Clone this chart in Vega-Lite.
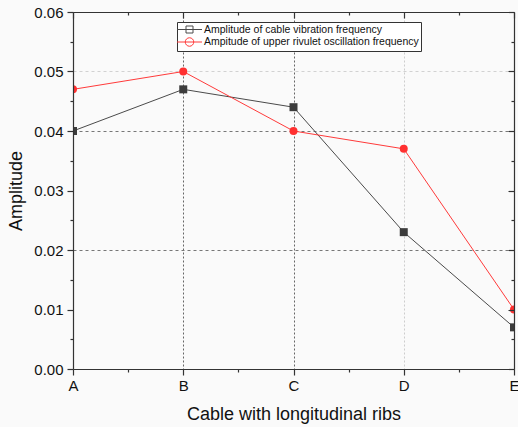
{
  "$schema": "https://vega.github.io/schema/vega-lite/v6.json",
  "width": 441,
  "height": 357,
  "autosize": {"type": "none"},
  "padding": {"left": 73, "top": 12, "right": 4, "bottom": 58},
  "background": "#fafafa",
  "config": {
    "view": {"stroke": null},
    "font": "Liberation Sans",
    "axis": {
      "domainColor": "#333333",
      "tickColor": "#333333",
      "labelColor": "#111111",
      "titleColor": "#111111",
      "labelFont": "Liberation Sans",
      "titleFont": "Liberation Sans",
      "titleFontWeight": "normal",
      "tickWidth": 1.2,
      "domainWidth": 1.2
    }
  },
  "data": {
    "values": [
      {"cable": "A", "series": "Amplitude of cable vibration frequency", "amplitude": 0.040},
      {"cable": "B", "series": "Amplitude of cable vibration frequency", "amplitude": 0.047},
      {"cable": "C", "series": "Amplitude of cable vibration frequency", "amplitude": 0.044},
      {"cable": "D", "series": "Amplitude of cable vibration frequency", "amplitude": 0.023},
      {"cable": "E", "series": "Amplitude of cable vibration frequency", "amplitude": 0.007},
      {"cable": "A", "series": "Ampitude of upper rivulet oscillation frequency", "amplitude": 0.047},
      {"cable": "B", "series": "Ampitude of upper rivulet oscillation frequency", "amplitude": 0.050},
      {"cable": "C", "series": "Ampitude of upper rivulet oscillation frequency", "amplitude": 0.040},
      {"cable": "D", "series": "Ampitude of upper rivulet oscillation frequency", "amplitude": 0.037},
      {"cable": "E", "series": "Ampitude of upper rivulet oscillation frequency", "amplitude": 0.010}
    ]
  },
  "layer": [
    {
      "mark": {"type": "point", "opacity": 0, "filled": true},
      "encoding": {
        "x": {"field": "cable", "type": "ordinal", "scale": {"type": "point", "padding": 0, "domain": ["A", "B", "C", "D", "E"]},
          "axis": {"orient": "bottom", "values": ["B", "C", "D"], "grid": true, "ticks": false, "labels": false, "domain": false, "title": null,
            "gridDash": [2, 2], "gridColor": "#666666",
            "gridOpacity": {"condition": {"test": "datum.value === 'D'", "value": 0.3}, "value": 1}}},
        "y": {"field": "amplitude", "type": "quantitative", "scale": {"domain": [0, 0.06], "nice": false, "zero": true},
          "axis": {"orient": "left", "values": [0.02, 0.04, 0.05], "grid": true, "ticks": false, "labels": false, "domain": false, "title": null,
            "gridDash": [3, 3], "gridColor": "#777777",
            "gridOpacity": {"condition": {"test": "datum.value === 0.05", "value": 0.3}, "value": 1}}},
        "fill": {"field": "series", "type": "nominal",
          "scale": {"domain": ["Amplitude of cable vibration frequency", "Ampitude of upper rivulet oscillation frequency"], "range": ["#3c3c3c", "#ff3030"]},
          "legend": {"orient": "none", "legendX": 104, "legendY": 10, "title": null, "strokeColor": "#333333", "fillColor": "#ffffff",
            "padding": 2, "labelFontSize": 10.5, "labelFont": "Liberation Sans", "labelColor": "#111111", "labelLimit": 0, "symbolSize": 100,
            "symbolOffset": 5, "labelOffset": 9, "rowPadding": 0.5, "symbolOpacity": 1, "symbolStrokeWidth": 1,
            "symbolFillColor": "#3c3c3c"}},
        "stroke": {"field": "series", "type": "nominal",
          "scale": {"domain": ["Amplitude of cable vibration frequency", "Ampitude of upper rivulet oscillation frequency"], "range": ["#4a4a4a", "#ff3a3a"]}},
        "shape": {"field": "series", "type": "nominal",
          "scale": {"domain": ["Amplitude of cable vibration frequency", "Ampitude of upper rivulet oscillation frequency"],
            "range": ["M-2.5,0H2.5M-0.7,-0.7H0.7V0.7H-0.7Z", "M-2.5,0H2.5M0.85,0A0.85,0.85,0,1,1,-0.85,0A0.85,0.85,0,1,1,0.85,0Z"]}}
      }
    },
    {
      "transform": [{"filter": "datum.series === 'Amplitude of cable vibration frequency'"}],
      "mark": {"type": "line", "strokeWidth": 1, "clip": true, "color": "#4a4a4a"},
      "encoding": {
        "x": {"field": "cable", "type": "ordinal", "scale": {"type": "point", "padding": 0, "domain": ["A", "B", "C", "D", "E"]},
          "axis": {"orient": "bottom", "title": "Cable with longitudinal ribs", "labelAngle": 0, "labelFontSize": 15, "titleFontSize": 18,
            "tickSize": 6, "labelPadding": 3, "titlePadding": 12, "labelFlush": false, "grid": false, "zindex": 1}},
        "y": {"field": "amplitude", "type": "quantitative", "scale": {"domain": [0, 0.06], "nice": false, "zero": true},
          "axis": {"orient": "left", "title": "Amplitude", "values": [0, 0.01, 0.02, 0.03, 0.04, 0.05, 0.06], "format": ".2f",
            "labelFontSize": 15, "titleFontSize": 18, "tickSize": 6, "labelPadding": 4, "titlePadding": 8, "labelFlush": false, "grid": false, "zindex": 1}}
      }
    },
    {
      "transform": [{"filter": "datum.series === 'Ampitude of upper rivulet oscillation frequency'"}],
      "mark": {"type": "line", "strokeWidth": 1, "clip": true, "color": "#ff3a3a"},
      "encoding": {
        "x": {"field": "cable", "type": "ordinal", "scale": {"type": "point", "padding": 0, "domain": ["A", "B", "C", "D", "E"]}, "axis": null},
        "y": {"field": "amplitude", "type": "quantitative", "scale": {"domain": [0, 0.06], "nice": false, "zero": true}, "axis": null}
      }
    },
    {
      "transform": [{"filter": "datum.series === 'Amplitude of cable vibration frequency'"}],
      "mark": {"type": "point", "shape": "square", "filled": true, "size": 64, "opacity": 1, "clip": true, "color": "#3c3c3c"},
      "encoding": {
        "x": {"field": "cable", "type": "ordinal", "scale": {"type": "point", "padding": 0, "domain": ["A", "B", "C", "D", "E"]}, "axis": null},
        "y": {"field": "amplitude", "type": "quantitative", "scale": {"domain": [0, 0.06], "nice": false, "zero": true}, "axis": null}
      }
    },
    {
      "transform": [{"filter": "datum.series === 'Ampitude of upper rivulet oscillation frequency'"}],
      "mark": {"type": "point", "shape": "circle", "filled": true, "size": 64, "opacity": 1, "clip": true, "color": "#ff3030"},
      "encoding": {
        "x": {"field": "cable", "type": "ordinal", "scale": {"type": "point", "padding": 0, "domain": ["A", "B", "C", "D", "E"]}, "axis": null},
        "y": {"field": "amplitude", "type": "quantitative", "scale": {"domain": [0, 0.06], "nice": false, "zero": true}, "axis": null}
      }
    },
    {
      "mark": {"type": "point", "opacity": 0},
      "encoding": {
        "x": {"field": "cable", "type": "ordinal", "scale": {"type": "point", "padding": 0, "domain": ["A", "B", "C", "D", "E"]},
          "axis": {"orient": "top", "values": ["A", "B", "C", "D", "E"], "tickSize": -6, "labels": false, "title": null, "grid": false, "zindex": 1}},
        "y": {"field": "amplitude", "type": "quantitative", "scale": {"domain": [0, 0.06], "nice": false, "zero": true},
          "axis": {"orient": "right", "values": [0, 0.01, 0.02, 0.03, 0.04, 0.05, 0.06], "tickSize": -6, "labels": false, "title": null, "grid": false, "zindex": 1}}
      }
    },
    {
      "mark": {"type": "point", "opacity": 0},
      "encoding": {
        "x": {"field": "cable", "type": "ordinal", "scale": {"type": "point", "padding": 0, "domain": ["A", "B", "C", "D", "E"]},
          "axis": {"orient": "bottom", "values": ["A", "B", "C", "D"], "tickOffset": 55.125, "tickSize": 3, "labels": false, "domain": false, "title": null, "grid": false}},
        "y": {"field": "amplitude", "type": "quantitative", "scale": {"domain": [0, 0.06], "nice": false, "zero": true},
          "axis": {"orient": "left", "values": [0.005, 0.015, 0.025, 0.035, 0.045, 0.055], "tickSize": 3, "labels": false, "domain": false, "title": null, "grid": false}}
      }
    },
    {
      "mark": {"type": "point", "opacity": 0},
      "encoding": {
        "x": {"field": "cable", "type": "ordinal", "scale": {"type": "point", "padding": 0, "domain": ["A", "B", "C", "D", "E"]},
          "axis": {"orient": "top", "values": ["A", "B", "C", "D"], "tickOffset": 55.125, "tickSize": -3, "labels": false, "domain": false, "title": null, "grid": false}},
        "y": {"field": "amplitude", "type": "quantitative", "scale": {"domain": [0, 0.06], "nice": false, "zero": true},
          "axis": {"orient": "right", "values": [0.005, 0.015, 0.025, 0.035, 0.045, 0.055], "tickSize": -3, "labels": false, "domain": false, "title": null, "grid": false}}
      }
    }
  ],
  "resolve": {"axis": {"x": "independent", "y": "independent"}}
}
